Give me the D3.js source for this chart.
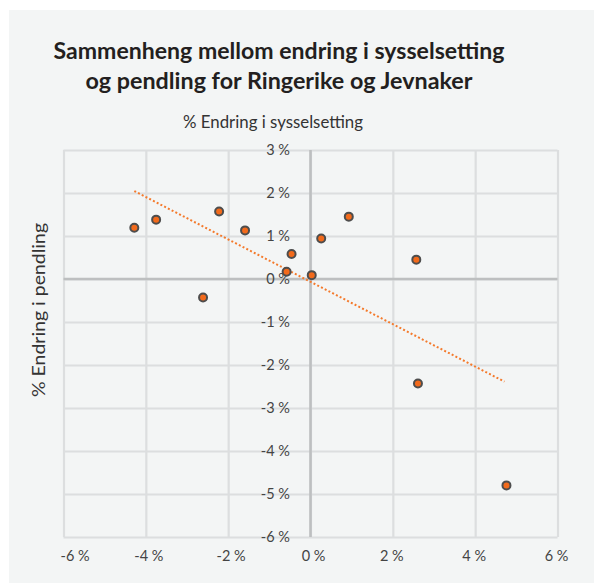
<!DOCTYPE html>
<html>
<head>
<meta charset="utf-8">
<script src="https://cdn.jsdelivr.net/npm/d3@7"></script>
<style>
  html, body { margin: 0; padding: 0; background: #ffffff; }
  svg { display: block; }
</style>
</head>
<body>
<svg id="chart" width="594" height="583"></svg>
<script>
// ---- Data ----
const titleLines = ["Sammenheng mellom endring i sysselsetting", "og pendling for Ringerike og Jevnaker"];
const xAxisTitle = "% Endring i sysselsetting";
const yAxisTitle = "% Endring i pendling";
const employmentChange = [-4.28, -3.75, -2.22, -1.59, -2.61, -0.46, -0.58, 0.03, 0.26, 0.93, 2.57, 2.61, 4.76];
const commutingChange  = [ 1.19,  1.38,  1.57,  1.13, -0.43,  0.58,  0.17, 0.09, 0.94, 1.45, 0.45, -2.43, -4.80];
const xTicks = [-6, -4, -2, 0, 2, 4, 6];
const yTicks = [3, 2, 1, 0, -1, -2, -3, -4, -5, -6];

const points = employmentChange.map((x, i) => ({ x, y: commutingChange[i] }));

// ---- Layout ----
const svg = d3.select("#chart");
const W = 594, H = 583;
const plot = { left: 63.5, right: 557.5, top: 150, bottom: 537 };
const font = "Lato, 'Open Sans', sans-serif";

svg.append("rect").attr("x", 9).attr("y", 10).attr("width", W - 9).attr("height", H - 10).attr("fill", "#f3f5f5");

const x = d3.scaleLinear().domain([-6, 6]).range([plot.left, plot.right]);
const y = d3.scaleLinear().domain([-6, 3]).range([plot.bottom, plot.top]);

// Title
const titleWidths = [451, 387];
titleLines.forEach((t, i) => {
  svg.append("text")
    .attr("x", 279).attr("y", 59 + i * 30)
    .attr("text-anchor", "middle")
    .attr("font-family", font)
    .attr("font-weight", 700)
    .attr("font-size", 22)
    .attr("fill", "#231f20")
    .attr("textLength", titleWidths[i])
    .attr("lengthAdjust", "spacingAndGlyphs")
    .text(t);
});

// Axis titles
svg.append("text")
  .attr("x", 273).attr("y", 128)
  .attr("text-anchor", "middle")
  .attr("font-family", font)
  .attr("font-size", 16.5)
  .attr("fill", "#333")
  .attr("textLength", 180)
  .attr("lengthAdjust", "spacingAndGlyphs")
  .text(xAxisTitle);

svg.append("text")
  .attr("transform", "translate(45,310) rotate(-90)")
  .attr("text-anchor", "middle")
  .attr("font-family", font)
  .attr("font-size", 16.5)
  .attr("fill", "#333")
  .attr("textLength", 174)
  .attr("lengthAdjust", "spacingAndGlyphs")
  .text(yAxisTitle);

// Gridlines via axes
const gridColor = "#dcdedf";
const gx = svg.append("g").attr("transform", `translate(0,${plot.bottom})`)
  .call(d3.axisBottom(x).tickValues(xTicks).tickSize(-(plot.bottom - plot.top)).tickFormat(""));
gx.select(".domain").remove();
gx.selectAll(".tick line").attr("stroke", gridColor).attr("stroke-width", 2.2);

const gy = svg.append("g").attr("transform", `translate(${plot.left},0)`)
  .call(d3.axisLeft(y).tickValues(yTicks).tickSize(-(plot.right - plot.left)).tickFormat(""));
gy.select(".domain").remove();
gy.selectAll(".tick line").attr("stroke", gridColor).attr("stroke-width", 2.2);

// Zero axes
svg.append("line").attr("x1", plot.left).attr("x2", plot.right).attr("y1", y(0)).attr("y2", y(0))
  .attr("stroke", "#bdbfc0").attr("stroke-width", 2.6);
svg.append("line").attr("x1", x(0)).attr("x2", x(0)).attr("y1", plot.top).attr("y2", plot.bottom)
  .attr("stroke", "#bdbfc0").attr("stroke-width", 2.6);

// Tick labels
const fmt = d => `${d < 0 ? "-" : ""}${Math.abs(d)} %`;
svg.append("g").selectAll("text").data(yTicks).join("text")
  .attr("x", 290).attr("y", d => y(d)).attr("dy", "0.35em")
  .attr("text-anchor", "end")
  .attr("font-family", font).attr("font-size", 14.5).attr("fill", "#444")
  .text(fmt);

svg.append("g").selectAll("text").data(xTicks).join("text")
  .attr("x", (d, i) => i === 0 ? x(d) - 3 : x(d) + (d <= 0 ? 3 : -1))
  .attr("y", 561)
  .attr("text-anchor", (d, i) => i === 0 ? "start" : "middle")
  .attr("font-family", font).attr("font-size", 14.5).attr("fill", "#444")
  .text(fmt);

// Linear trendline (least squares)
const mx = d3.mean(points, d => d.x), my = d3.mean(points, d => d.y);
const slope = d3.sum(points, d => (d.x - mx) * (d.y - my)) / d3.sum(points, d => (d.x - mx) ** 2);
const intercept = my - slope * mx;
const [xmin, xmax] = d3.extent(points, d => d.x);
svg.append("line")
  .attr("x1", x(xmin)).attr("y1", y(slope * xmin + intercept))
  .attr("x2", x(xmax) - 2).attr("y2", y(slope * (xmax - 0.05) + intercept))
  .attr("stroke", "#f47a2c").attr("stroke-width", 2).attr("stroke-dasharray", "2,2.2");

// Points
svg.append("g").selectAll("circle").data(points).join("circle")
  .attr("cx", d => x(d.x)).attr("cy", d => y(d.y)).attr("r", 4)
  .attr("fill", "#f26a1b").attr("stroke", "#4d4d4d").attr("stroke-width", 2);
</script>
</body>
</html>
